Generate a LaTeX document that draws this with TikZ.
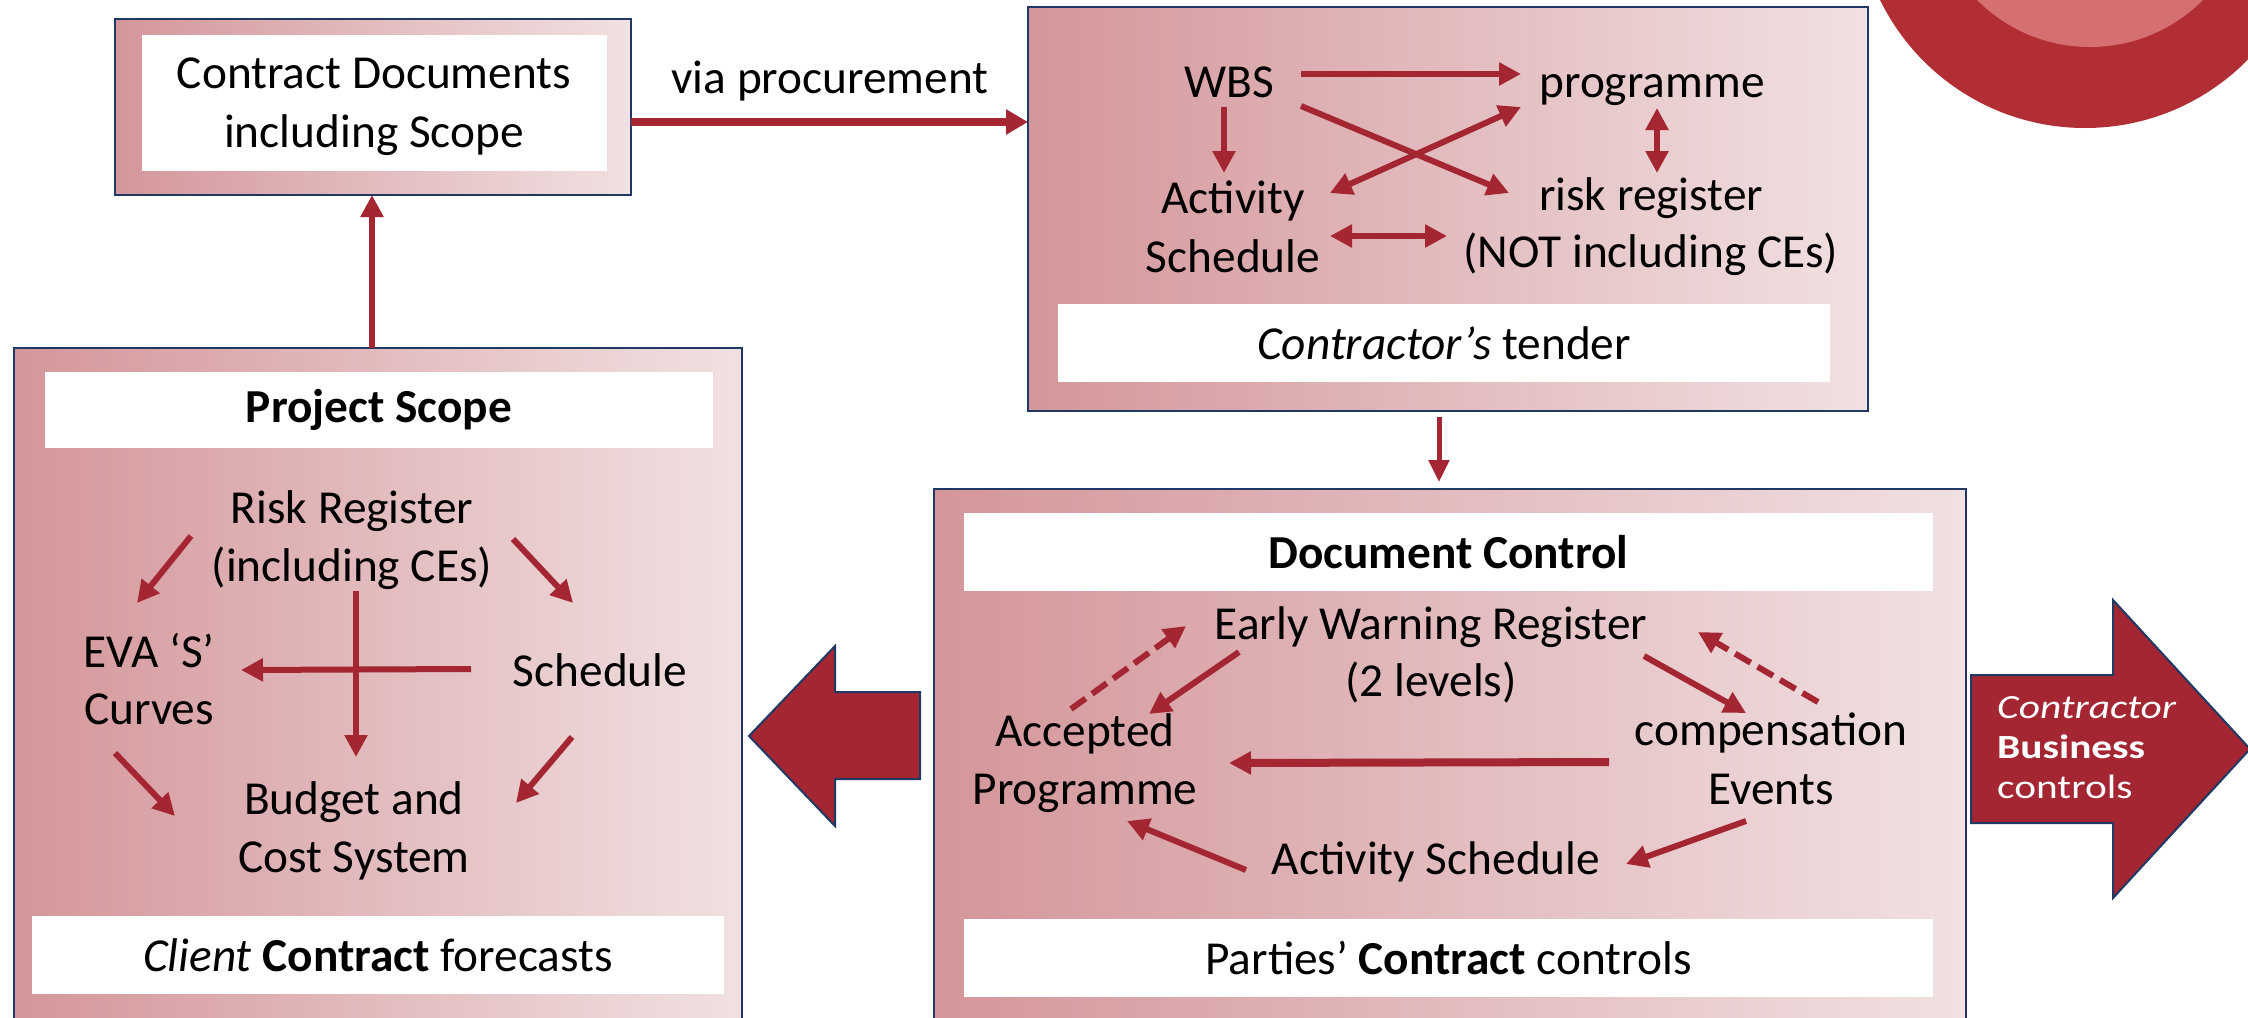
\documentclass[tikz,border=0pt]{standalone}
\usepackage{fontspec}
\setmainfont{Carlito}
\usetikzlibrary{arrows.meta}
\definecolor{arrred}{HTML}{A32632}
\definecolor{navy}{HTML}{1F3864}
\definecolor{gradL}{HTML}{D4969A}
\definecolor{gradR}{HTML}{F1E1E2}
\definecolor{circout}{HTML}{B22E35}
\definecolor{circin}{HTML}{D66F72}
\begin{document}
\begin{tikzpicture}[x=1bp,y=-1bp,
  panel/.style={draw=navy,line width=2bp,left color=gradL,right color=gradR,inner sep=0pt,outer sep=0pt},
  whitebox/.style={fill=white,inner sep=0pt,outer sep=0pt,font=\fontsize{47.5}{58}\selectfont},
  txt/.style={inner sep=0pt,anchor=base,font=\fontsize{47.5}{58}\selectfont},
  wtxt/.style={inner sep=0pt,anchor=base west,text=white,font=\fontsize{34}{40}\selectfont},
  arr/.style={draw=arrred,line width=6bp,-{Triangle[length=22bp,width=22bp]}},
  darr/.style={draw=arrred,line width=6bp,{Triangle[length=22bp,width=22bp]}-{Triangle[length=22bp,width=22bp]}},
  dsh/.style={arr,dash pattern=on 18bp off 8bp},
  bigarrow/.style={fill=arrred,draw=navy,line width=2bp,line join=miter}]
\path[use as bounding box] (0,0) rectangle (2248,1017);
\clip (0,0) rectangle (2248,1017);
% decorative circle
\fill[circout] (2085,-100) circle[radius=228bp];
\fill[circin] (2090,-112) circle[radius=159bp];
% panels
\node[panel,minimum width=516bp,minimum height=176bp] (A) at (373,107) {};
\node[whitebox,minimum width=465bp,minimum height=136bp] (Aw) at (374.5,103) {};
\node[panel,minimum width=840bp,minimum height=404bp] (B) at (1448,209) {};
\node[whitebox,minimum width=772bp,minimum height=78bp] (Bw) at (1444,343) {\itshape Contractor’s\upshape{} tender};
\node[panel,minimum width=728bp,minimum height=700bp] (C) at (378,698) {};
\node[whitebox,minimum width=668bp,minimum height=76bp] (Cw1) at (379,410) {\bfseries Project Scope};
\node[whitebox,minimum width=692bp,minimum height=78bp] (Cw2) at (378,955) {\itshape Client\upshape{} \textbf{Contract} forecasts};
\node[panel,minimum width=1032bp,minimum height=560bp] (D) at (1450,769) {};
\node[whitebox,minimum width=969bp,minimum height=78bp] (Dw1) at (1448.5,552) {\bfseries Document Control};
\node[whitebox,minimum width=969bp,minimum height=78bp] (Dw2) at (1448.5,958) {Parties’ \textbf{Contract} controls};
% big arrows
\draw[bigarrow] (749,736) -- (835,646) -- (835,692) -- (920,692) -- (920,779) -- (835,779) -- (835,826) -- cycle;
\draw[bigarrow] (1971,675) -- (2113,675) -- (2113,600) -- (2250,749) -- (2113,898) -- (2113,823) -- (1971,823) -- cycle;
\node[wtxt] (rt1) at (1997,718) {\scalebox{1.22}[1]{\itshape Contractor}};
\node[wtxt] (rt2) at (1997,758) {\scalebox{1.22}[1]{\bfseries Business}};
\node[wtxt] (rt3) at (1997,798) {\scalebox{1.22}[1]{controls}};
% texts box A
\node[txt] (a1) at (374,88) {Contract Documents};
\node[txt] (a2) at (374,147) {including Scope};
\node[txt] (via) at (830,93) {via procurement};
% texts box B
\node[txt] (wbs) at (1229,97) {WBS};
\node[txt] (prog) at (1652,97) {programme};
\node[txt] (act1) at (1233,213) {Activity};
\node[txt] (act2) at (1233,272) {Schedule};
\node[txt] (risk1) at (1651,210) {risk register};
\node[txt] (risk2) at (1651,267) {(NOT including CEs)};
% texts box C
\node[txt] (rr1) at (352,523) {Risk Register};
\node[txt] (rr2) at (352,581) {(including CEs)};
\node[txt] (eva1) at (149,667) {EVA ‘S’};
\node[txt] (eva2) at (149,724) {Curves};
\node[txt] (sch) at (600,686) {Schedule};
\node[txt] (bud1) at (354,814) {Budget and};
\node[txt] (bud2) at (354,872) {Cost System};
% texts box D
\node[txt] (ewr1) at (1431,639) {Early Warning Register};
\node[txt] (ewr2) at (1431,696) {(2 levels)};
\node[txt] (ap1) at (1085,746) {Accepted};
\node[txt] (ap2) at (1085,804) {Programme};
\node[txt] (ce1) at (1771,745) {compensation};
\node[txt] (ce2) at (1771,804) {Events};
\node[txt] (as) at (1436,874) {Activity Schedule};
% connectors between panels
\draw[draw=arrred,line width=8bp,-{Triangle[length=22bp,width=24bp]}] (A.east |- 0,122) -- (B.west |- 0,122);
\draw[arr] (C.north -| 372,0) -- (A.south -| 372,0);
\draw[draw=arrred,line width=5bp,-{Triangle[length=22bp,width=20bp]},shorten <=6bp,shorten >=7bp] (B.south -| 1439,0) -- (D.north -| 1439,0);
% box B arrows
\coordinate (wbsE) at (1301,74); \coordinate (progW) at (1521,74);
\coordinate (wbsS) at (1224,107); \coordinate (actN) at (1224,173);
\coordinate (wbsSE) at (1301,106); \coordinate (riskNW) at (1509,193);
\coordinate (progSW) at (1521,107); \coordinate (actNE) at (1330,193);
\coordinate (progS) at (1657,108); \coordinate (riskN) at (1657,173);
\coordinate (actE) at (1330,236); \coordinate (riskW) at (1447,236);
\draw[arr] (wbsE) -- (progW);
\draw[arr] (wbsS) -- (actN);
\draw[arr] (wbsSE) -- (riskNW);
\draw[darr] (progSW) -- (actNE);
\draw[darr] (progS) -- (riskN);
\draw[darr] (actE) -- (riskW);
% box C arrows
\coordinate (rrSW) at (191,536); \coordinate (evaNE) at (137,603);
\coordinate (rrSE) at (513,539); \coordinate (schNW) at (573,603);
\coordinate (rrS) at (356,591); \coordinate (budN) at (356,757);
\coordinate (schW) at (471,669); \coordinate (evaE) at (241,670);
\coordinate (evaSE) at (115,753); \coordinate (budNW) at (175,816);
\coordinate (schSW) at (572,737); \coordinate (budNE) at (516,803);
\draw[arr] (rrSW) -- (evaNE);
\draw[arr] (rrSE) -- (schNW);
\draw[arr] (rrS) -- (budN);
\draw[arr] (schW) -- (evaE);
\draw[arr] (evaSE) -- (budNW);
\draw[arr] (schSW) -- (budNE);
% box D arrows
\coordinate (apNE) at (1071,709); \coordinate (ewrSW) at (1186,626);
\coordinate (ewrS1) at (1239,652); \coordinate (apNE2) at (1149,714);
\coordinate (ewrSE) at (1644,656); \coordinate (ceNW) at (1746,713);
\coordinate (ceNE) at (1818,702); \coordinate (ewrE) at (1698,632);
\coordinate (ceW) at (1609,762); \coordinate (apE) at (1229,763);
\coordinate (ceSW) at (1746,821); \coordinate (asE) at (1626,864);
\coordinate (asW) at (1246,870); \coordinate (apSE) at (1127,821);
\draw[dsh] (apNE) -- (ewrSW);
\draw[arr] (ewrS1) -- (apNE2);
\draw[arr] (ewrSE) -- (ceNW);
\draw[dsh] (ceNE) -- (ewrE);
\draw[arr,line width=8bp] (ceW) -- (apE);
\draw[arr] (ceSW) -- (asE);
\draw[arr] (asW) -- (apSE);
\end{tikzpicture}
\end{document}
